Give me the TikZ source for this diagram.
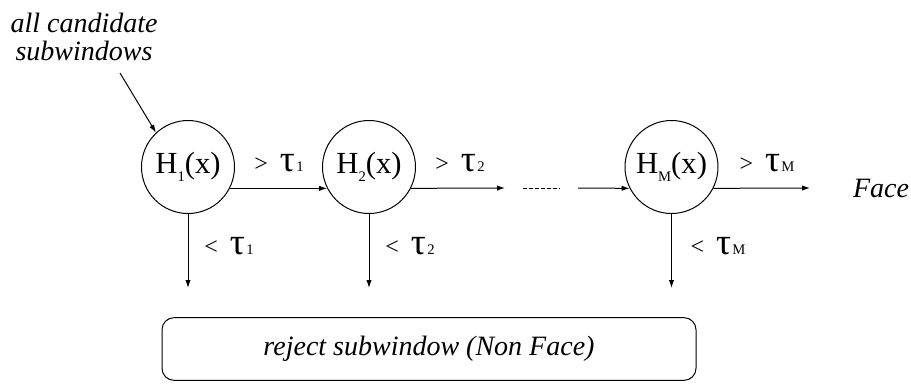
\documentclass[tikz,border=0pt]{standalone}
\usepackage{fontspec}
\setmainfont{Liberation Serif}[ItalicFont={Liberation Serif Italic},BoldFont={Liberation Serif Bold}]
\usetikzlibrary{arrows.meta}
\newcommand{\tauof}[1]{{\fontsize{28}{28}\selectfont τ}\hspace{1pt}{\fontsize{11}{11}\selectfont #1}}
\newcommand{\hof}[1]{H\raisebox{-0.28em}{\fontsize{11}{11}\selectfont #1}(x)}
\begin{document}
\begin{tikzpicture}[x=0.75pt,y=-0.75pt,
  stage/.style={draw,circle,line width=0.75pt,minimum size=69.75pt,inner sep=0pt,font=\fontsize{23}{23}\selectfont},
  conn/.style={line width=0.75pt,-{Latex[length=6pt,width=4pt]}},
  lbl/.style={inner sep=0pt,font=\fontsize{18}{18}\selectfont},
  ital/.style={inner sep=0pt,font=\fontsize{21}{20.5}\selectfont\itshape,align=center}]
\useasboundingbox (0,0) rectangle (911,383);
\node[stage] (h1) at (188,167) {\hof{1}};
\node[stage] (h2) at (369,167) {\hof{2}};
\node[stage] (hm) at (671.5,167) {\hof{M}};
\node[ital] (inp) at (84,37) {all candidate\\subwindows};
\coordinate (ins) at (120,73);
\draw[conn] (ins) -- (h1.133);
\draw[conn] (h1.-27) -- (h2.207);
\coordinate (a2) at (505,188);
\draw[conn] (h2.-27) -- (a2);
\coordinate (d1) at (523,188);
\coordinate (d2) at (560,188);
\draw[line width=0.75pt,dash pattern=on 3pt off 1.5pt] (d1) -- (d2);
\coordinate (a3) at (578,188);
\draw[conn] (a3) -- (hm.207);
\coordinate (a4) at (810,188);
\draw[conn] (hm.-27) -- (a4);
\node[ital,font=\fontsize{21}{21}\selectfont\itshape] (face) at (881,188) {Face};
\coordinate (b1) at (188,288);
\coordinate (b2) at (369,288);
\coordinate (bm) at (671.5,288);
\draw[conn] (h1.south) -- (b1);
\draw[conn] (h2.south) -- (b2);
\draw[conn] (hm.south) -- (bm);
\node[lbl] (g1) at (279,163) {>\hspace{9pt}\tauof{1}};
\node[lbl] (g2) at (460,163) {>\hspace{9pt}\tauof{2}};
\node[lbl] (gm) at (767,163) {>\hspace{9pt}\tauof{M}};
\node[lbl] (l1) at (229,246) {<\hspace{9pt}\tauof{1}};
\node[lbl] (l2) at (410,246) {<\hspace{9pt}\tauof{2}};
\node[lbl] (lm) at (718,246) {<\hspace{9pt}\tauof{M}};
\node[draw,line width=0.75pt,rounded corners=9pt,minimum width=400.5pt,minimum height=47pt,inner sep=0pt,font=\fontsize{21}{21}\selectfont\itshape] (rej) at (429,349) {reject subwindow (Non Face)};
\end{tikzpicture}
\end{document}
